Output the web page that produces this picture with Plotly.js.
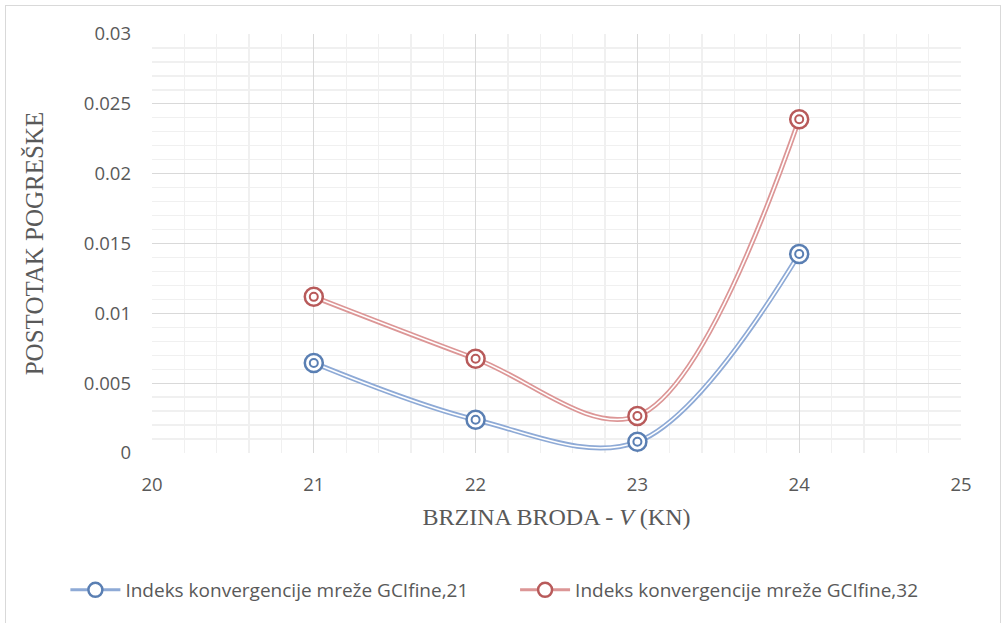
<!DOCTYPE html>
<html><head><meta charset="utf-8">
<script src="https://cdn.plot.ly/plotly-3.0.1.min.js"></script>
<style>html,body{margin:0;padding:0;background:#fff}#frame{position:absolute;left:5px;top:5px;width:994px;height:640px;border:1px solid #d9d9d9}#chart{position:absolute;left:0;top:0;width:1006px;height:623px}</style>
</head><body><div id="frame"></div><div id="chart"></div>
<script>
const speed = [21, 22, 23, 24];
const gci21 = [0.00645, 0.00238, 0.0008, 0.01425];
const gci32 = [0.01118, 0.00675, 0.00265, 0.0239];
const name21 = 'Indeks konvergencije mreže GCIfine,21';
const name32 = 'Indeks konvergencije mreže GCIfine,32';
const blue = '#8eaad6', blueDark = '#5a7fb3';
const red = '#dc9696', redDark = '#b85a5a';

function series(y, name, lc, mc, leg) {
  return [
    {x: speed, y: y, mode: 'lines', line: {shape: 'spline', smoothing: 1, color: lc, width: 5}, showlegend: false, hoverinfo: 'skip'},
    {x: speed, y: y, mode: 'lines', line: {shape: 'spline', smoothing: 1, color: '#ffffff', width: 1.6}, showlegend: false, hoverinfo: 'skip'},
    {x: speed, y: y, mode: 'markers', name: name, marker: {symbol: 'circle', size: 18, color: '#ffffff', line: {color: mc, width: 2.5}}, showlegend: false},
    {x: speed, y: y, mode: 'markers', marker: {symbol: 'circle', size: 8, color: '#ffffff', line: {color: mc, width: 2}}, showlegend: false, hoverinfo: 'skip'},
    {x: [null], y: [null], mode: 'lines+markers', name: name, legend: leg, line: {color: lc, width: 3}, marker: {symbol: 'circle', size: 14, color: '#ffffff', line: {color: mc, width: 2.5}}, showlegend: true}
  ];
}

const data = [].concat(series(gci21, name21, blue, blueDark, 'legend'), series(gci32, name32, red, redDark, 'legend2'));

const legBase = {orientation: 'h', xref: 'container', yref: 'container', xanchor: 'left', y: 0.053, yanchor: 'middle', font: {size: 19, color: '#595959'}, itemwidth: 50, bgcolor: 'rgba(0,0,0,0)'};

const layout = {
  width: 1006, height: 623,
  margin: {l: 152, r: 45, t: 34, b: 170},
  paper_bgcolor: 'rgba(0,0,0,0)', plot_bgcolor: '#ffffff',
  font: {family: 'Open Sans, Liberation Sans, sans-serif', color: '#595959', size: 18},
  xaxis: {
    range: [20, 25], dtick: 1, tick0: 20, showgrid: true, gridcolor: '#d9d9d9', gridwidth: 1.3,
    zeroline: false, showline: false, ticks: '', tickfont: {size: 18.5, color: '#595959'}, ticklabelstandoff: 18,
    minor: {dtick: 0.2, showgrid: true, gridcolor: '#f0f0f0', gridwidth: 1.3},
    title: {text: 'BRZINA BRODA - <i>V</i> (KN)', font: {family: 'Liberation Serif, serif', size: 24, color: '#595959'}, standoff: 13}
  },
  yaxis: {
    range: [0, 0.03], dtick: 0.005, tick0: 0, showgrid: true, gridcolor: '#d9d9d9', gridwidth: 1.3,
    zeroline: false, showline: false, ticks: '', tickfont: {size: 18.5, color: '#595959'}, ticklabelstandoff: 20,
    minor: {dtick: 0.001, showgrid: true, gridcolor: '#f0f0f0', gridwidth: 1.3},
    title: {text: 'POSTOTAK POGREŠKE', font: {family: 'Liberation Serif, serif', size: 25, color: '#595959'}, standoff: 33}
  },
  legend: Object.assign({}, legBase, {x: 0.065}),
  legend2: Object.assign({}, legBase, {x: 0.512}),
  showlegend: true
};
Plotly.newPlot('chart', data, layout, {displayModeBar: false, staticPlot: true});
</script></body></html>
